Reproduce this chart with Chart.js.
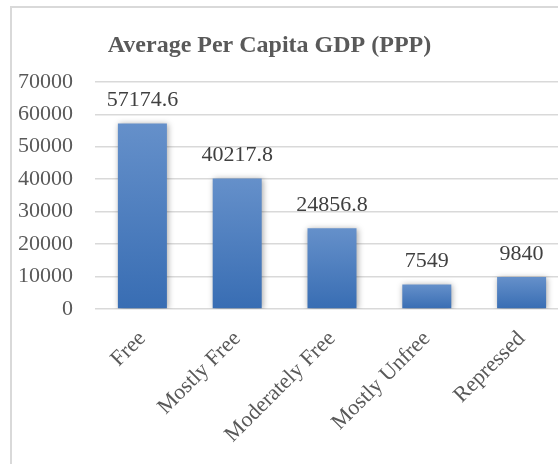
<!DOCTYPE html>
<html>
<head>
<meta charset="utf-8">
<script src="https://cdn.jsdelivr.net/npm/chart.js@4"></script>
<style>
  html, body { margin: 0; padding: 0; background: #fff; }
  body { width: 558px; height: 464px; overflow: hidden; position: relative; }
  #frame { position: absolute; left: 10px; top: 6px; width: 700px; height: 700px;
           border: 2px solid #d9d9d9; box-sizing: border-box; }
  #gdpChart { position: absolute; left: -30px; top: 0; }
</style>
</head>
<body>
<div id="frame"></div>
<canvas id="gdpChart" width="600" height="464"></canvas>
<script>
// chart data
const categories = ['Free', 'Mostly Free', 'Moderately Free', 'Mostly Unfree', 'Repressed'];
const gdpValues = [57174.6, 40217.8, 24856.8, 7549, 9840];
const yTicks = [0, 10000, 20000, 30000, 40000, 50000, 60000, 70000];

const serif = '"Liberation Serif", "Times New Roman", serif';

// gradient per bar, lighter at the top like the original
function barFill(ctx) {
    const chart = ctx.chart;
    const y = chart.scales.y;
    if (!chart.chartArea || !y || ctx.raw === undefined) return '#4a7ebf';
    const top = y.getPixelForValue(ctx.raw);
    const bottom = y.getPixelForValue(0);
    if (!isFinite(top) || !isFinite(bottom) || top === bottom) return '#4a7ebf';
    const g = chart.ctx.createLinearGradient(0, top, 0, bottom);
    g.addColorStop(0, '#6590ca');
    g.addColorStop(1, '#386db3');
    return g;
}

// soft shadow behind the bars and value labels above them
const barExtras = {
    id: 'barExtras',
    beforeDatasetsDraw(chart) {
        const c = chart.ctx;
        c.save();
        c.shadowColor = 'rgba(0,0,0,0.35)';
        c.shadowBlur = 6;
        c.shadowOffsetX = 1;
        c.shadowOffsetY = 1;
    },
    afterDatasetsDraw(chart) {
        const c = chart.ctx;
        c.restore();
        c.save();
        c.font = '22px ' + serif;
        c.fillStyle = '#404040';
        c.textAlign = 'center';
        c.textBaseline = 'alphabetic';
        chart.getDatasetMeta(0).data.forEach((bar, i) => {
            c.fillText(String(gdpValues[i]), bar.x, bar.y - 17);
        });
        c.restore();
    }
};

new Chart(document.getElementById('gdpChart'), {
    type: 'bar',
    data: {
        labels: categories,
        datasets: [{
            data: gdpValues,
            backgroundColor: barFill,
            borderWidth: 0,
            categoryPercentage: 1,
            barPercentage: 0.517
        }]
    },
    options: {
        responsive: false,
        animation: false,
        devicePixelRatio: 1,
        layout: { padding: { top: 0, left: 0, right: 1, bottom: 0 } },
        plugins: {
            legend: { display: false },
            tooltip: { enabled: false },
            title: {
                display: true,
                text: 'Average Per Capita GDP (PPP)',
                color: '#595959',
                font: { family: serif, size: 24, weight: 'bold', lineHeight: 1.2 },
                padding: { top: 31, bottom: 22 }
            }
        },
        scales: {
            x: {
                grid: { display: false },
                border: { display: false },
                ticks: {
                    color: '#595959',
                    font: { family: serif, size: 22 },
                    minRotation: 45,
                    maxRotation: 45,
                    padding: 9
                },
                afterFit: s => { s.height = 155; }
            },
            y: {
                min: 0,
                max: 70000,
                afterBuildTicks: s => { s.ticks = yTicks.map(v => ({ value: v })); },
                grid: { color: '#d9d9d9', lineWidth: 1.5, drawTicks: false },
                border: { display: false },
                ticks: {
                    color: '#595959',
                    font: { family: serif, size: 22 },
                    padding: 22,
                    callback: v => String(v)
                },
                afterFit: s => { s.width = 125; }
            }
        }
    },
    plugins: [barExtras]
});
</script>
</body>
</html>
